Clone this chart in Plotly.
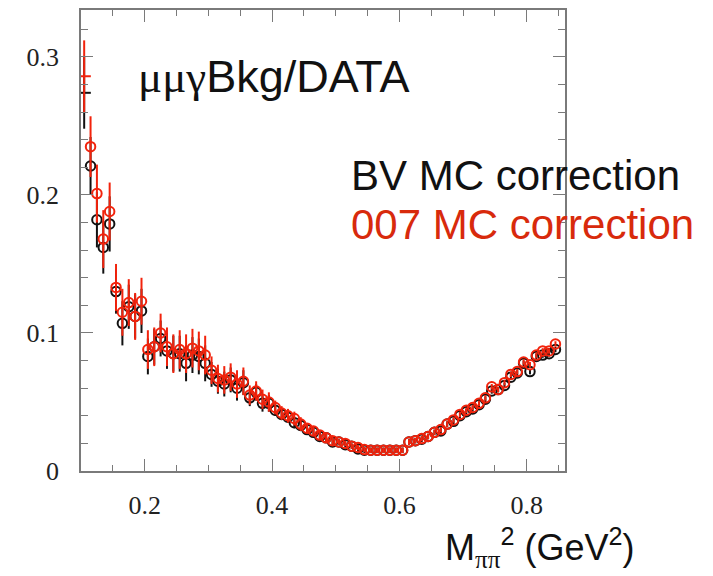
import plotly.graph_objects as go

# bin centres (GeV^2)
x_bins = [0.105, 0.115, 0.125, 0.135, 0.145, 0.155, 0.165, 0.175, 0.185, 0.195,
          0.205, 0.215, 0.225, 0.235, 0.245, 0.255, 0.265, 0.275, 0.285, 0.295,
          0.305, 0.315, 0.325, 0.335, 0.345, 0.355, 0.365, 0.375, 0.385, 0.395,
          0.405, 0.415, 0.425, 0.435, 0.445, 0.455, 0.465, 0.475, 0.485, 0.495,
          0.505, 0.515, 0.525, 0.535, 0.545, 0.555, 0.565, 0.575, 0.585, 0.595,
          0.605, 0.615, 0.625, 0.635, 0.645, 0.655, 0.665, 0.675, 0.685, 0.695,
          0.705, 0.715, 0.725, 0.735, 0.745, 0.755, 0.765, 0.775, 0.785, 0.795,
          0.805, 0.815, 0.825, 0.835, 0.845]

bv_values = [0.274, 0.221, 0.182, 0.162, 0.179, 0.130, 0.107, 0.119, 0.112, 0.116,
             0.083, 0.090, 0.096, 0.087, 0.085, 0.085, 0.078, 0.084, 0.083, 0.078,
             0.070, 0.065, 0.063, 0.066, 0.060, 0.064, 0.053, 0.057, 0.049, 0.049,
             0.044, 0.041, 0.039, 0.035, 0.033, 0.030, 0.028, 0.025, 0.024, 0.021,
             0.021, 0.019, 0.018, 0.016, 0.015, 0.015, 0.015, 0.015, 0.015, 0.015,
             0.015, 0.021, 0.022, 0.023, 0.025, 0.028, 0.029, 0.034, 0.036, 0.040,
             0.043, 0.045, 0.048, 0.052, 0.058, 0.059, 0.062, 0.068, 0.071, 0.078,
             0.072, 0.083, 0.084, 0.085, 0.088]

bv_errors = [0.026, 0.021, 0.020, 0.019, 0.020, 0.016, 0.016, 0.016, 0.016, 0.016,
             0.013, 0.013, 0.013, 0.013, 0.013, 0.013, 0.013, 0.013, 0.013, 0.013,
             0.009, 0.009, 0.009, 0.009, 0.009, 0.009, 0.006, 0.006, 0.006, 0.006,
             0.004, 0.004, 0.004, 0.004, 0.004, 0.003, 0.003, 0.003, 0.003, 0.003,
             0.002, 0.002, 0.002, 0.002, 0.002, 0.002, 0.002, 0.002, 0.002, 0.002,
             0.002, 0.002, 0.002, 0.002, 0.002, 0.002, 0.002, 0.002, 0.002, 0.002,
             0.002, 0.002, 0.002, 0.002, 0.002, 0.002, 0.002, 0.002, 0.002, 0.002,
             0.002, 0.002, 0.002, 0.002, 0.002]

mc007_values = [0.286, 0.235, 0.201, 0.168, 0.188, 0.133, 0.115, 0.122, 0.112, 0.123,
                0.088, 0.090, 0.100, 0.090, 0.085, 0.088, 0.085, 0.089, 0.087, 0.084,
                0.073, 0.067, 0.066, 0.068, 0.063, 0.065, 0.055, 0.058, 0.052, 0.050,
                0.046, 0.042, 0.040, 0.038, 0.034, 0.031, 0.029, 0.026, 0.024, 0.022,
                0.021, 0.020, 0.018, 0.017, 0.0155, 0.015, 0.015, 0.015, 0.015, 0.015,
                0.015, 0.021, 0.022, 0.0235, 0.025, 0.028, 0.030, 0.034, 0.037, 0.041,
                0.044, 0.046, 0.049, 0.053, 0.061, 0.059, 0.064, 0.070, 0.072, 0.079,
                0.077, 0.084, 0.087, 0.087, 0.092]

mc007_errors = [0.026, 0.022, 0.021, 0.021, 0.021, 0.017, 0.017, 0.017, 0.017, 0.017,
                0.014, 0.014, 0.014, 0.014, 0.014, 0.014, 0.014, 0.014, 0.014, 0.014,
                0.010, 0.010, 0.010, 0.010, 0.010, 0.010, 0.007, 0.007, 0.007, 0.007,
                0.005, 0.005, 0.005, 0.005, 0.005, 0.003, 0.003, 0.003, 0.003, 0.003,
                0.002, 0.002, 0.002, 0.002, 0.002, 0.002, 0.002, 0.002, 0.002, 0.002,
                0.002, 0.002, 0.002, 0.002, 0.002, 0.002, 0.002, 0.002, 0.002, 0.002,
                0.002, 0.002, 0.002, 0.002, 0.002, 0.002, 0.002, 0.002, 0.002, 0.002,
                0.002, 0.002, 0.002, 0.002, 0.002]

x_ticks = [0.2, 0.4, 0.6, 0.8]
x_tick_labels = ["0.2", "0.4", "0.6", "0.8"]
y_ticks = [0, 0.1, 0.2, 0.3]
y_tick_labels = ["0", "0.1", "0.2", "0.3"]

BLACK = "#111111"
RED = "#f2230c"
RED_TEXT = "#d82a0c"
FRAME = "#7a7a7a"

symbols = ["line-ew"] + ["circle-open"] * (len(x_bins) - 1)

fig = go.Figure()
fig.add_trace(go.Scatter(
    x=x_bins, y=bv_values, mode="markers",
    marker=dict(symbol=symbols, size=9.5, color=BLACK, line=dict(color=BLACK, width=2)),
    error_y=dict(type="data", array=bv_errors, visible=True, color=BLACK, thickness=2, width=0),
    showlegend=False, cliponaxis=True,
))
fig.add_trace(go.Scatter(
    x=x_bins, y=mc007_values, mode="markers",
    marker=dict(symbol=symbols, size=9.5, color=RED, line=dict(color=RED, width=2)),
    error_y=dict(type="data", array=mc007_errors, visible=True, color=RED, thickness=2, width=0),
    showlegend=False, cliponaxis=True,
))

L, R, T, B = 81, 565, 8, 471
W, H = 713, 576

def px(xp):
    return (xp - L) / (R - L)

def py(yp):
    return (B - yp) / (B - T)

axis_common = dict(
    showgrid=False, zeroline=False, showline=True, linecolor=FRAME, linewidth=1.5,
    mirror="allticks", ticks="inside", tickcolor=FRAME, tickwidth=1,
    tickfont=dict(family="Liberation Serif", size=26, color="#222222"),
)

fig.update_xaxes(
    range=[0.1, 0.86], tickvals=x_ticks, ticktext=x_tick_labels, ticklen=12,
    minor=dict(dtick=0.05, tick0=0.1, ticklen=6, ticks="inside", tickcolor=FRAME, tickwidth=1),
    ticklabelstandoff=10, **axis_common,
)
fig.update_yaxes(
    range=[0, 0.334], tickvals=y_ticks, ticktext=y_tick_labels, ticklen=12,
    minor=dict(dtick=0.02, tick0=0, ticklen=7, ticks="inside", tickcolor=FRAME, tickwidth=1),
    ticklabelstandoff=15, **axis_common,
)

annotations = [
    dict(text='<span style="font-family:Liberation Serif">μμγ</span>Bkg/DATA',
         x=px(136), y=py(75), xanchor="left", yanchor="middle",
         font=dict(family="Liberation Sans", size=45, color="#111111")),
    dict(text="BV MC correction", x=px(349), y=py(174), xanchor="left", yanchor="middle",
         font=dict(family="Liberation Sans", size=42, color="#111111")),
    dict(text="007 MC correction", x=px(349), y=py(223), xanchor="left", yanchor="middle",
         font=dict(family="Liberation Sans", size=42, color=RED_TEXT)),
    dict(text='M<sub><span style="font-family:Liberation Serif">ππ</span></sub><sup>2</sup> (GeV<sup>2</sup>)',
         x=px(443), y=py(548), xanchor="left", yanchor="middle",
         font=dict(family="Liberation Sans", size=36, color="#111111")),
]
for a in annotations:
    a.update(xref="paper", yref="paper", showarrow=False)
fig.update_layout(
    width=W, height=H, margin=dict(l=L, r=W - R, t=T, b=H - B),
    paper_bgcolor="white", plot_bgcolor="white", annotations=annotations,
)

fig.write_html("out.html")
